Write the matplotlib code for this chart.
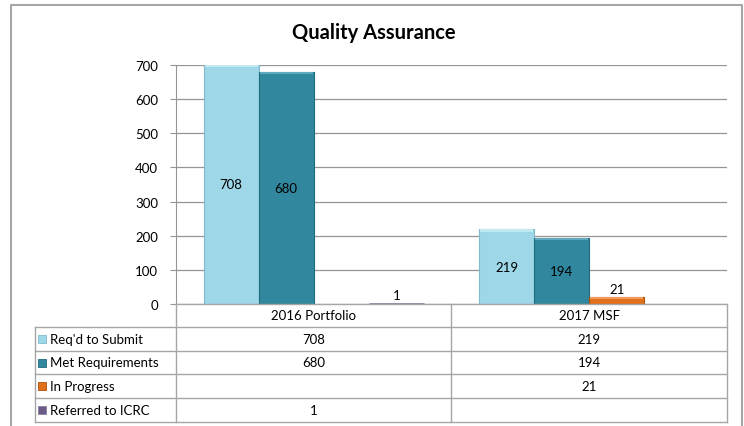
import matplotlib.pyplot as plt
from matplotlib.patches import Rectangle
from matplotlib.lines import Line2D
import numpy as np

categories = ["2016 Portfolio", "2017 MSF"]
series_names = ["Req'd to Submit", "Met Requirements", "In Progress", "Referred to ICRC"]
req_submit = [708, 219]
met_req = [680, 194]
in_progress = [None, 21]
referred = [1, None]
series_colors = ["#9dd7e8", "#31889e", "#e0701c", "#6a5a86"]
edge_colors = ["#7fb9cc", "#1f6a7c", "#a9500f", "#8a80a0"]
top_colors = ["#c2e8f3", "#5fa9bc", "#f0995a", "#9386aa"]
yticks = [0, 100, 200, 300, 400, 500, 600, 700]

plt.rcParams['font.family'] = ['Lato', 'DejaVu Sans']

W, H = 744, 427
fig = plt.figure(figsize=(W / 100, H / 100), dpi=100)


def fx(px):
    return px / W


def fy(py):
    return 1 - py / H


# outer chart frame (no bottom edge, it runs off the picture)
frame_kw = dict(color='#a6a6a6', linewidth=1.5, transform=fig.transFigure)
fig.add_artist(Line2D([fx(11), fx(11), fx(742), fx(742)],
                      [fy(427), fy(6), fy(6), fy(427)], **frame_kw))

ax_l, ax_r, ax_t, ax_b = 176, 727, 66, 305
ax = fig.add_axes([fx(ax_l), fy(ax_b), (ax_r - ax_l) / W, (ax_b - ax_t) / H])

all_series = [req_submit, met_req, in_progress, referred]
n = len(all_series)
bw = 0.2
x = np.arange(len(categories))
bevel = 7  # data units
for i, vals in enumerate(all_series):
    offs = (i - (n - 1) / 2) * bw
    for j, v in enumerate(vals):
        if v is None:
            continue
        top = min(v, 700)
        lw = 0.8 if v > 10 else 2.0
        ax.bar(x[j] + offs, v, width=bw, color=series_colors[i],
               edgecolor=edge_colors[i], linewidth=lw, zorder=3)
        if v > 10:
            b = min(bevel, top / 2)
            ax.bar(x[j] + offs, b, bottom=top - b, width=bw * 0.96,
                   color=top_colors[i], linewidth=0, zorder=3.5)
        if v > 100:
            ax.text(x[j] + offs, top / 2, str(v), ha='center', va='center',
                    fontsize=9.5, color='black', zorder=4)
        else:
            ax.text(x[j] + offs, v + 24, str(v), ha='center', va='center',
                    fontsize=9.5, color='black', zorder=4)

ax.set_xlim(-0.5, len(categories) - 0.5)
ax.set_ylim(0, 700)
ax.set_yticks(yticks)
ax.set_yticklabels([str(t) for t in yticks], fontsize=9.5)
ax.set_xticks([])
ax.grid(axis='y', color='#959595', linewidth=0.9, zorder=0)
ax.tick_params(axis='y', length=4, color='#959595', pad=9)
for s in ['top', 'right', 'bottom']:
    ax.spines[s].set_visible(False)
ax.spines['left'].set_color('#959595')

fig.text(fx(374), fy(33), "Quality Assurance", ha='center', va='center',
         fontsize=14.5, fontweight='bold')

# data table below the plot
tab_l = 35
col_edges = [ax_l + k * (ax_r - ax_l) / len(categories) for k in range(len(categories) + 1)]
row_edges = [305, 328, 352, 375, 399, 423]
line_kw = dict(color='#a6a6a6', linewidth=1.0, transform=fig.transFigure)
for k, ry in enumerate(row_edges):
    left = ax_l if k == 0 else tab_l
    fig.add_artist(Line2D([fx(left), fx(ax_r)], [fy(ry), fy(ry)], **line_kw))
for cx in col_edges:
    fig.add_artist(Line2D([fx(cx), fx(cx)], [fy(row_edges[0]), fy(row_edges[-1])], **line_kw))
fig.add_artist(Line2D([fx(tab_l), fx(tab_l)], [fy(row_edges[1]), fy(row_edges[-1])], **line_kw))

for j, c in enumerate(categories):
    cx = (col_edges[j] + col_edges[j + 1]) / 2
    fig.text(fx(cx), fy((row_edges[0] + row_edges[1]) / 2), c,
             ha='center', va='center', fontsize=9.5)
for i, vals in enumerate(all_series):
    cy = (row_edges[i + 1] + row_edges[i + 2]) / 2
    fig.add_artist(Rectangle((fx(tab_l + 3), fy(cy + 4)), 8 / W, 8 / H,
                             transform=fig.transFigure, facecolor=series_colors[i],
                             edgecolor=edge_colors[i], linewidth=0.6))
    fig.text(fx(tab_l + 15), fy(cy), series_names[i], ha='left', va='center',
             fontsize=9.5)
    for j, v in enumerate(vals):
        if v is None:
            continue
        cx = (col_edges[j] + col_edges[j + 1]) / 2
        fig.text(fx(cx), fy(cy), str(v), ha='center', va='center', fontsize=9.5)

fig.savefig("out.png", dpi=100)
